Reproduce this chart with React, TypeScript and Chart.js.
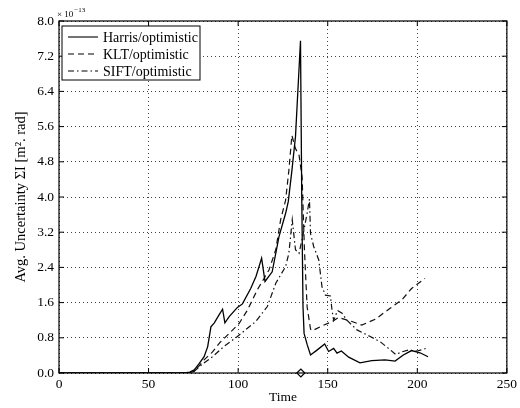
import React, { useEffect, useRef } from "react";
import { Chart, registerables } from "chart.js";

Chart.register(...registerables);

// Data (values in units of 1e-13)
const harrisT = [0, 70, 73, 75.5, 78, 81, 83, 84.8, 86.7, 89, 91.3, 92.6, 95, 99.6, 102.4, 107, 110, 113.1, 115, 119, 122.8, 126.5, 128, 130, 132, 134.8, 135.5, 136.2, 136.8, 138.5, 140.4, 144, 148.3, 150.5, 153.3, 155.2, 157.6, 161.7, 168, 174.6, 182, 187.6, 192.2, 196.8, 201.5, 206];
const harrisV = [0, 0, 0.02, 0.07, 0.2, 0.37, 0.6, 1.05, 1.14, 1.3, 1.45, 1.14, 1.28, 1.49, 1.57, 1.92, 2.2, 2.61, 2.08, 2.3, 3.1, 3.63, 3.9, 4.6, 5.37, 7.55, 4.0, 1.5, 0.9, 0.65, 0.41, 0.52, 0.66, 0.49, 0.56, 0.45, 0.5, 0.36, 0.23, 0.28, 0.3, 0.27, 0.41, 0.51, 0.46, 0.37];

const kltT = [0, 72, 75, 78, 81, 85.7, 90, 95, 100.6, 105.2, 110.7, 117.2, 121, 123.7, 126.5, 128.3, 130, 132, 134, 135.7, 137, 138.5, 140.4, 141.3, 146.8, 152.4, 156, 163.5, 169, 176.5, 184.8, 191.3, 196.8, 204.3];
const kltV = [0, 0, 0.03, 0.15, 0.3, 0.48, 0.7, 0.9, 1.13, 1.43, 1.89, 2.34, 2.8, 3.48, 3.93, 4.6, 5.4, 5.1, 4.95, 4.45, 2.8, 1.5, 1.0, 0.96, 1.07, 1.17, 1.26, 1.17, 1.09, 1.22, 1.47, 1.66, 1.92, 2.15];

const siftT = [0, 73, 75, 80, 85.7, 92, 99.6, 109.8, 116.3, 121, 126.5, 128.3, 130.2, 132, 134, 136.5, 138.5, 139.8, 140.4, 142.2, 145, 146.8, 148.7, 151.5, 152.4, 153.3, 155.5, 158, 160.7, 166.3, 173.7, 179.3, 183.9, 188, 191.3, 195, 200, 205];
const siftV = [0, 0, 0.02, 0.2, 0.37, 0.6, 0.83, 1.17, 1.51, 2.04, 2.42, 2.72, 3.48, 2.8, 2.72, 3.2, 3.63, 3.95, 3.17, 2.87, 2.57, 1.96, 1.77, 1.75, 1.43, 1.2, 1.42, 1.36, 1.2, 0.98, 0.83, 0.71, 0.56, 0.42, 0.48, 0.52, 0.5, 0.56];

const markerT = [135];
const markerV = [0];

const seriesLabels = ["Harris/optimistic", "KLT/optimistic", "SIFT/optimistic"];
const xTicks = [0, 50, 100, 150, 200, 250];
const yTickStep = 0.8;
const yMax = 8.0;
const xTitle = "Time";
const yTitle = "Avg. Uncertainty \u03a3I [m\u00b2. rad]";
const exponentBase = "\u00d7 10";
const exponentPow = "\u221213";

const FONT = "'Liberation Serif', 'DejaVu Serif', serif";
const dashes: number[][] = [[], [6, 4], [6, 3, 1.5, 3]];

const toPts = (t: number[], v: number[]) => t.map((x, i) => ({ x, y: v[i] }));

const framePlugin = {
  id: "frame",
  afterDraw(chart: any) {
    const { ctx, chartArea } = chart;
    const { left, right, top, bottom } = chartArea;
    const xs = chart.scales.x;
    const ys = chart.scales.y;
    ctx.save();
    ctx.strokeStyle = "#000";
    ctx.lineWidth = 1.2;
    ctx.setLineDash([]);
    ctx.strokeRect(left, top, right - left, bottom - top);
    // inner ticks
    ctx.lineWidth = 1;
    const tl = 5;
    xTicks.forEach((t) => {
      const px = xs.getPixelForValue(t);
      ctx.beginPath();
      ctx.moveTo(px, bottom);
      ctx.lineTo(px, bottom - tl);
      ctx.moveTo(px, top);
      ctx.lineTo(px, top + tl);
      ctx.stroke();
    });
    ys.ticks.forEach((tk: any) => {
      const py = ys.getPixelForValue(tk.value);
      ctx.beginPath();
      ctx.moveTo(left, py);
      ctx.lineTo(left + tl, py);
      ctx.moveTo(right, py);
      ctx.lineTo(right - tl, py);
      ctx.stroke();
    });
    // exponent label
    ctx.fillStyle = "#000";
    ctx.textBaseline = "alphabetic";
    ctx.textAlign = "left";
    ctx.font = `9px ${FONT}`;
    ctx.fillText(exponentBase, 57, 17);
    const w = ctx.measureText(exponentBase).width;
    ctx.font = `7px ${FONT}`;
    ctx.fillText(exponentPow, 57 + w + 1, 12);
    // legend
    const lx = 62, ly = 26, lw = 138, lh = 54;
    ctx.fillStyle = "#fff";
    ctx.fillRect(lx, ly, lw, lh);
    ctx.strokeStyle = "#000";
    ctx.lineWidth = 1;
    ctx.strokeRect(lx, ly, lw, lh);
    ctx.font = `14px ${FONT}`;
    ctx.textBaseline = "middle";
    chart.data.datasets.slice(0, 3).forEach((ds: any, i: number) => {
      const cy = ly + 11 + i * 17;
      ctx.beginPath();
      ctx.setLineDash(dashes[i]);
      ctx.lineWidth = 1.1;
      ctx.moveTo(lx + 6, cy);
      ctx.lineTo(lx + 36, cy);
      ctx.stroke();
      ctx.setLineDash([]);
      ctx.fillStyle = "#000";
      ctx.fillText(ds.label, lx + 41, cy + 1);
    });
    ctx.restore();
  },
};

export default function App() {
  const ref = useRef<HTMLCanvasElement | null>(null);
  useEffect(() => {
    if (!ref.current) return;
    const chart = new Chart(ref.current, {
      type: "line",
      data: {
        datasets: [
          {
            label: seriesLabels[0],
            data: toPts(harrisT, harrisV),
            borderColor: "#000",
            borderWidth: 1.3,
            pointRadius: 0,
            tension: 0,
            fill: false,
          },
          {
            label: seriesLabels[1],
            data: toPts(kltT, kltV),
            borderColor: "#111",
            borderWidth: 1.2,
            borderDash: dashes[1],
            pointRadius: 0,
            tension: 0,
            fill: false,
          },
          {
            label: seriesLabels[2],
            data: toPts(siftT, siftV),
            borderColor: "#111",
            borderWidth: 1.2,
            borderDash: dashes[2],
            pointRadius: 0,
            tension: 0,
            fill: false,
          },
          {
            label: "marker",
            data: toPts(markerT, markerV),
            showLine: false,
            clip: false,
            pointStyle: "rectRot",
            pointRadius: 4,
            pointBackgroundColor: "#fff",
            pointBorderColor: "#000",
            pointBorderWidth: 1.2,
          },
        ],
      },
      options: {
        responsive: false,
        animation: false,
        layout: { padding: { top: 21, right: 11, left: 0, bottom: 0 } },
        plugins: { legend: { display: false }, tooltip: { enabled: false } },
        scales: {
          x: {
            type: "linear",
            min: 0,
            max: 250,
            afterFit: (s: any) => {
              s.height = 35;
            },
            afterBuildTicks: (s: any) => {
              s.ticks = xTicks.map((v) => ({ value: v }));
            },
            ticks: {
              color: "#000",
              font: { family: FONT, size: 13.5 },
              padding: 3,
              maxRotation: 0,
            },
            grid: { color: "#444", lineWidth: 1, drawTicks: false },
            border: { display: false, dash: [1, 3] },
            title: {
              display: true,
              text: xTitle,
              color: "#000",
              font: { family: FONT, size: 13.5 },
              padding: { top: 0, bottom: 2 },
            },
          },
          y: {
            min: 0,
            max: yMax,
            afterFit: (s: any) => {
              s.width = 59;
            },
            ticks: {
              stepSize: yTickStep,
              color: "#000",
              font: { family: FONT, size: 13.5 },
              padding: 5,
              callback: (v: any) => Number(v).toFixed(1),
            },
            grid: { color: "#444", lineWidth: 1, drawTicks: false },
            border: { display: false, dash: [1, 3] },
            title: {
              display: true,
              text: yTitle,
              color: "#000",
              font: { family: FONT, size: 14.5 },
              padding: { top: 12, bottom: 0 },
            },
          },
        },
      },
      plugins: [framePlugin],
    });
    return () => chart.destroy();
  }, []);
  return (
    <div style={{ position: "fixed", left: 0, top: 0, width: 520, height: 408, background: "#fff" }}>
      <canvas ref={ref} width={520} height={408} style={{ display: "block" }} />
    </div>
  );
}
